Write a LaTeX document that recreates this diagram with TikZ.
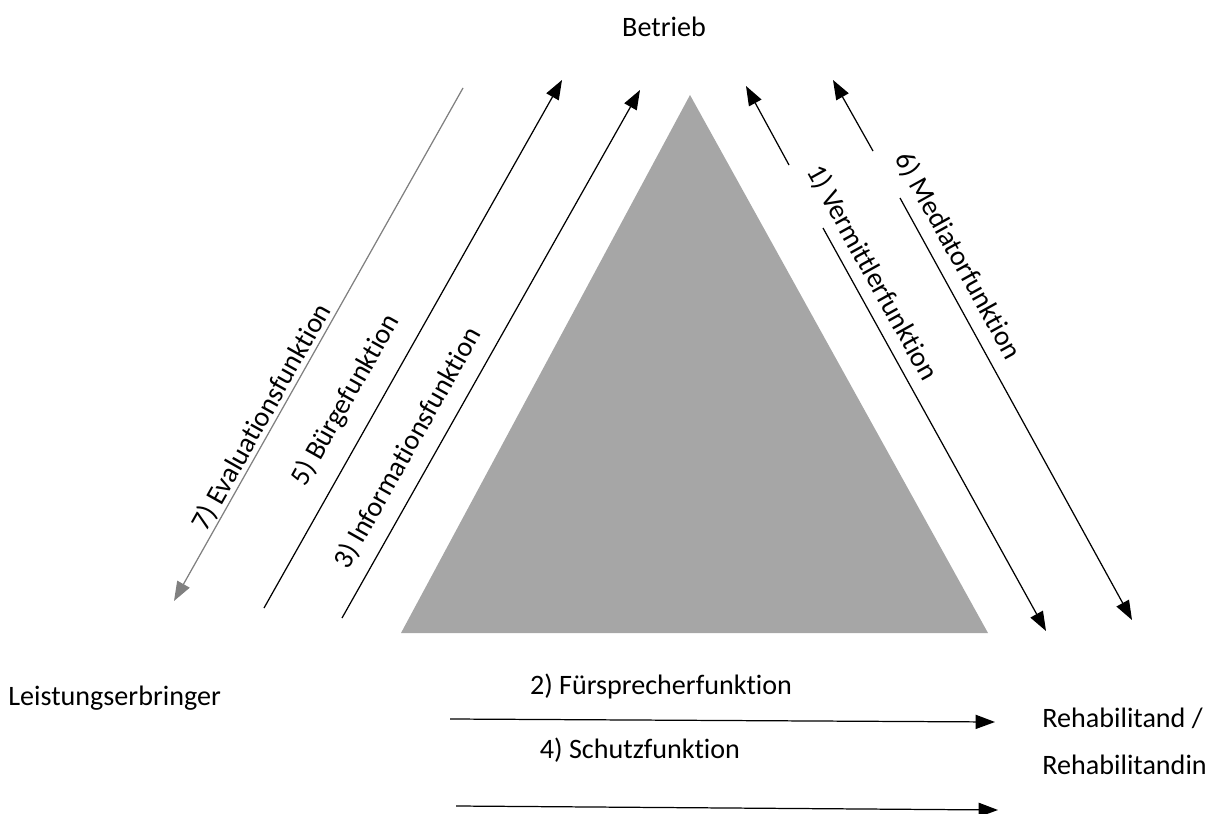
\documentclass[tikz,border=0pt]{standalone}
\usepackage{fontspec}
\setmainfont{Carlito}[Ligatures=NoCommon]
\usetikzlibrary{arrows.meta}

\begin{document}
\begin{tikzpicture}[x=0.02cm, y=-0.02cm,
    party/.style={font=\fontsize{16}{19}\selectfont, inner sep=0pt},
    role/.style={font=\fontsize{16}{19}\selectfont, inner sep=0pt},
    flow/.style={draw, line width=0.7pt, -{Triangle[length=11pt, width=8pt]}},
    grayflow/.style={flow, draw=gray, fill=gray}
]
    \useasboundingbox (0,0) rectangle (1217,814);

    % dreieck
    \fill[gray!70] (690,95) -- (988,633) -- (401,633) -- cycle;

    % parteien
    \node[party] (betrieb) at (664,27) {Betrieb};
    \node[party, anchor=west] (leistung) at (8,698) {Leistungserbringer};
    \node[party, anchor=west] (reha1) at (1042,718) {Rehabilitand /};
    \node[party, anchor=west] (reha2) at (1042,765) {Rehabilitandin};

    % endpunkte
    \coordinate (evtop) at (463,88);
    \coordinate (evbot) at (174,601);
    \coordinate (bubot) at (264,608);
    \coordinate (butop) at (562,80);
    \coordinate (inbot) at (342,618);
    \coordinate (intop) at (640,90);
    \coordinate (vetop) at (746,86);
    \coordinate (vemid1) at (789,165);
    \coordinate (vemid2) at (823,228);
    \coordinate (vebot) at (1046,631);
    \coordinate (metop) at (833,80);
    \coordinate (memid1) at (873,151);
    \coordinate (memid2) at (900,198);
    \coordinate (mebot) at (1132,620);
    \coordinate (fustart) at (450,719);
    \coordinate (fuend) at (995,722);
    \coordinate (scstart) at (456,806);
    \coordinate (scend) at (998,810);

    % beschriftungen
    \node[role, rotate=60.6] (evlab) at (262,417) {7) Evaluationsfunktion};
    \node[role, rotate=60.6] (bulab) at (346,400) {5) Bürgefunktion};
    \node[role, rotate=60.6] (inlab) at (408,448) {3) Informationsfunktion};
    \node[role, rotate=-61] (velab) at (872,273) {1) Vermittlerfunktion};
    \node[role, rotate=-61] (melab) at (958,256) {6) Mediatorfunktion};
    \node[role] (fulab) at (661,686) {2) Fürsprecherfunktion};
    \node[role] (sclab) at (640,750) {4) Schutzfunktion};

    % pfeile
    \draw[grayflow] (evtop) -- (evbot);
    \draw[flow] (bubot) -- (butop);
    \draw[flow] (inbot) -- (intop);
    \draw[flow] (vemid1) -- (vetop);
    \draw[flow] (vemid2) -- (vebot);
    \draw[flow] (memid1) -- (metop);
    \draw[flow] (memid2) -- (mebot);
    \draw[flow] (fustart) -- (fuend);
    \draw[flow] (scstart) -- (scend);
\end{tikzpicture}
\end{document}
